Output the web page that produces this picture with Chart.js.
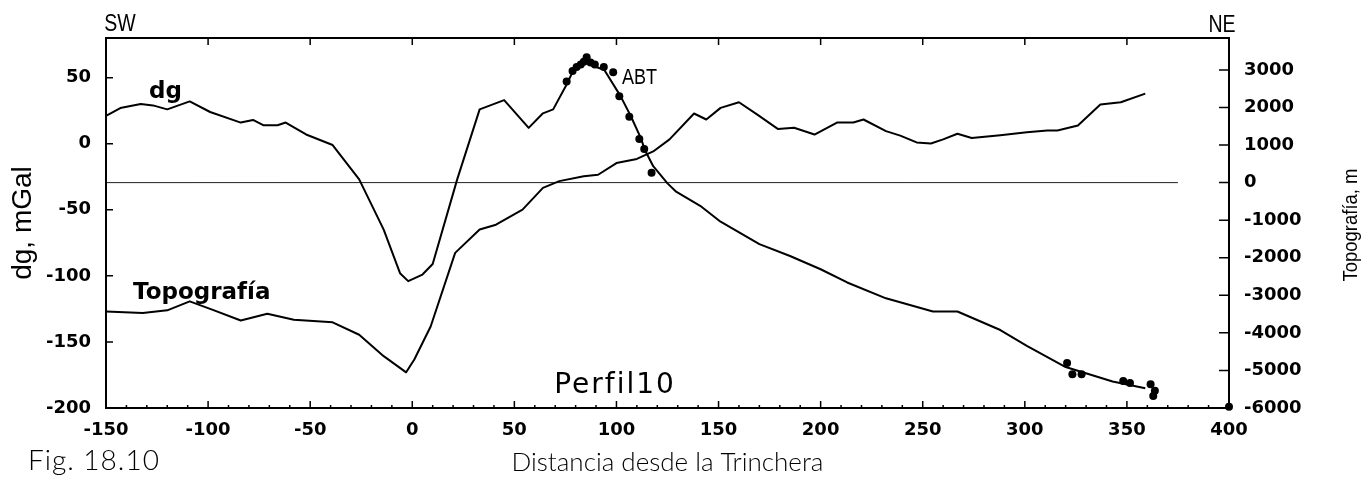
<!DOCTYPE html>
<html>
<head>
<meta charset="utf-8">
<title>Perfil10</title>
<script src="https://cdn.jsdelivr.net/npm/chart.js@4.4.1/dist/chart.umd.min.js"></script>
<style>
  html, body { margin: 0; padding: 0; background: #fff; }
  #wrap { width: 1369px; height: 483px; }
</style>
</head>
<body>
<div id="wrap"><canvas id="canvas" width="1369" height="483"></canvas></div>
<script>
// distance from the trench (km) and gravity anomaly dg (mGal)
var dgX = [-150, -143, -133, -127, -120, -109, -99, -84, -78, -73, -66, -62, -52, -39, -26,
    -14, -6, -2, 5, 10, 22, 33, 45, 57, 64, 69, 76, 79, 83, 86, 90, 94, 102, 107, 112,
    114, 118, 125, 129, 141, 151, 170, 185, 200, 213, 232, 255, 267, 288, 301, 320, 343, 359];
var dgVal = [21, 27, 30, 29, 26, 32, 24, 16, 18, 14, 14, 16, 7, -1, -27,
    -65, -98, -104, -99, -91, -27, 26, 33, 12, 23, 26, 46, 56, 60, 61, 58, 56, 36, 21, 4,
    -5, -17, -30, -36, -47, -59, -76, -85, -95, -105, -117, -127, -127, -141, -153, -169, -180, -185];

// topography along the profile (m)
var topoX = [-150, -132, -120, -109, -98, -84, -71, -58, -39, -26, -14, -3, 1, 9, 21,
    33, 41, 54, 64, 72, 84, 91, 100, 110, 118, 126, 138, 144, 151, 160, 169, 179, 187, 197,
    208, 216, 221, 232, 239, 247, 254, 260, 267, 274, 288, 301, 311, 316, 326, 337, 347, 359];
var topoVal = [-3430, -3470, -3400, -3160, -3380, -3670, -3490, -3650, -3720, -4050, -4620, -5050, -4710, -3830, -1870,
    -1250, -1120, -720, -140, 40, 170, 210, 520, 630, 830, 1150, 1840, 1680, 1990, 2140, 1810, 1430, 1460, 1280,
    1600, 1600, 1680, 1370, 1250, 1070, 1040, 1150, 1300, 1190, 1260, 1340, 1390, 1390, 1520, 2080, 2140, 2370];

// land Bouguer stations (ABT), mGal
var abtX = [75.6, 78.5, 80.5, 82.5, 84, 85.4, 87.3, 89.4, 93.8, 98.4, 101.4, 106.3, 111.2, 113.6, 117.2,
    320.7, 323.3, 327.8, 348.2, 351.5, 361.6, 363.7, 362.9, 400];
var abtVal = [47, 55, 58, 60, 62, 65.5, 61.5, 60, 58, 54, 36, 20.5, 3.5, -4, -22,
    -166, -174.5, -174.5, -179.5, -181, -182, -187, -191, -199];

// sea level
var seaX = [-150, 375];
var seaVal = [0, 0];

var xTicks = [-150, -100, -50, 0, 50, 100, 150, 200, 250, 300, 350, 400];
var dgTicks = [-200, -150, -100, -50, 0, 50];
var topoTicks = [-6000, -5000, -4000, -3000, -2000, -1000, 0, 1000, 2000, 3000, 4000].slice(0, 10);

function pairs(xs, ys) {
    return xs.map(function(x, i) { return {x: x, y: ys[i]}; });
}

var tickFont = {family: 'DejaVu Sans', size: 18, weight: 'bold'};

function narrowText(ctx, text, x, y, size, sx, align) {
    ctx.save();
    ctx.translate(x, y);
    ctx.scale(sx, 1);
    ctx.font = size + 'px "Liberation Sans", Arial, sans-serif';
    ctx.textAlign = align || 'left';
    ctx.fillText(text, 0, 0);
    ctx.restore();
}

var decor = {
    id: 'decor',
    afterDatasetsDraw: function(chart) {
        var ctx = chart.ctx, a = chart.chartArea;
        var sx = chart.scales.x, sy = chart.scales.y, sy1 = chart.scales.y1;
        ctx.save();
        ctx.strokeStyle = '#000';
        ctx.fillStyle = '#000';

        // frame
        ctx.lineWidth = 2;
        ctx.strokeRect(a.left, a.top, a.right - a.left, a.bottom - a.top);

        // inward tick marks
        ctx.lineWidth = 1.5;
        ctx.beginPath();
        xTicks.forEach(function(v) {
            var px = sx.getPixelForValue(v);
            ctx.moveTo(px, a.bottom); ctx.lineTo(px, a.bottom - 7);
            ctx.moveTo(px, a.top); ctx.lineTo(px, a.top + 7);
        });
        for (var v = -140; v < 400; v += 10) {
            if (v % 50) {
                var mx = sx.getPixelForValue(v);
                ctx.moveTo(mx, a.bottom); ctx.lineTo(mx, a.bottom - 3);
            }
        }
        dgTicks.forEach(function(v) {
            var py = sy.getPixelForValue(v);
            ctx.moveTo(a.left, py); ctx.lineTo(a.left + 7, py);
        });
        topoTicks.forEach(function(v) {
            var py = sy1.getPixelForValue(v);
            ctx.moveTo(a.right, py); ctx.lineTo(a.right - 10, py);
        });
        ctx.stroke();

        // labels
        ctx.textBaseline = 'alphabetic';
        narrowText(ctx, 'SW', 120, 31, 23, 0.85, 'center');
        narrowText(ctx, 'NE', 1222, 32, 23, 0.85, 'center');
        narrowText(ctx, 'ABT', 622, 84, 22, 0.82, 'left');

        ctx.font = 'bold 23px "DejaVu Sans", sans-serif';
        ctx.textAlign = 'left';
        ctx.fillText('dg', 149, 98);
        ctx.fillText('Topografía', 133, 299);

        ctx.font = '28px "DejaVu Sans", sans-serif';
        ctx.textAlign = 'center';
        ctx.letterSpacing = '2px';
        ctx.fillText('Perfil10', 615, 393);
        ctx.letterSpacing = '1px';
        ctx.font = '300 28px Lato, sans-serif';
        ctx.textAlign = 'left';
        ctx.fillText('Fig. 18.10', 28, 470);
        ctx.letterSpacing = '0px';

        // right axis title, reads bottom to top
        ctx.save();
        ctx.translate(1351, 225);
        ctx.rotate(-Math.PI / 2);
        ctx.scale(0.88, 1);
        ctx.font = '21px "Liberation Sans", Arial, sans-serif';
        ctx.textAlign = 'center';
        ctx.textBaseline = 'middle';
        ctx.fillText('Topografía, m', 0, 0);
        ctx.restore();

        ctx.restore();
    }
};

window.onload = function() {
    var ctx = document.getElementById('canvas').getContext('2d');
    window.profileChart = new Chart(ctx, {
        type: 'line',
        data: {
            datasets: [{
                label: 'dg',
                data: pairs(dgX, dgVal),
                yAxisID: 'y',
                borderColor: '#000',
                borderWidth: 2,
                borderJoinStyle: 'round',
                pointRadius: 0,
                tension: 0,
                fill: false
            }, {
                label: 'Topografía',
                data: pairs(topoX, topoVal),
                yAxisID: 'y1',
                borderColor: '#000',
                borderWidth: 2,
                borderJoinStyle: 'round',
                pointRadius: 0,
                tension: 0,
                fill: false
            }, {
                label: 'nivel del mar',
                data: pairs(seaX, seaVal),
                yAxisID: 'y1',
                borderColor: '#222',
                borderWidth: 1,
                pointRadius: 0,
                fill: false
            }, {
                label: 'ABT',
                data: pairs(abtX, abtVal),
                yAxisID: 'y',
                showLine: false,
                pointRadius: 4,
                pointBackgroundColor: '#000',
                pointBorderColor: '#000',
                pointBorderWidth: 0,
                clip: false
            }]
        },
        options: {
            responsive: false,
            animation: false,
            layout: { padding: { top: 38, left: 0, right: 0, bottom: 0 } },
            plugins: {
                legend: { display: false },
                tooltip: { enabled: false }
            },
            scales: {
                x: {
                    type: 'linear',
                    min: -150,
                    max: 400,
                    afterBuildTicks: function(s) { s.ticks = xTicks.map(function(v) { return {value: v}; }); },
                    afterFit: function(s) { s.height = 75; },
                    grid: { display: false, drawTicks: false },
                    border: { display: false },
                    ticks: {
                        font: tickFont, color: '#000', padding: 12, maxRotation: 0, autoSkip: false,
                        callback: function(v) { return String(v); }
                    },
                    title: {
                        display: true,
                        text: 'Distancia desde la Trinchera',
                        color: '#000',
                        font: { family: 'Lato', size: 26, weight: '300' },
                        padding: { top: 0, bottom: 5 }
                    }
                },
                y: {
                    type: 'linear',
                    position: 'left',
                    min: -200,
                    max: 80,
                    afterBuildTicks: function(s) { s.ticks = dgTicks.map(function(v) { return {value: v}; }); },
                    afterFit: function(s) { s.width = 106; },
                    grid: { display: false, drawTicks: false },
                    border: { display: false },
                    ticks: {
                        font: tickFont, color: '#000', padding: 15,
                        callback: function(v) { return String(v); }
                    },
                    title: {
                        display: true,
                        text: 'dg, mGal',
                        color: '#000',
                        font: { family: 'Liberation Sans', size: 28 },
                        padding: { top: 6, bottom: 0 }
                    }
                },
                y1: {
                    type: 'linear',
                    position: 'right',
                    min: -6000,
                    max: 3850,
                    afterBuildTicks: function(s) { s.ticks = topoTicks.map(function(v) { return {value: v}; }); },
                    afterFit: function(s) { s.width = 140; },
                    grid: { display: false, drawTicks: false },
                    border: { display: false },
                    ticks: {
                        font: tickFont, color: '#000', padding: 15,
                        callback: function(v) { return String(v); }
                    }
                }
            }
        },
        plugins: [decor]
    });
};
</script>
</body>
</html>
